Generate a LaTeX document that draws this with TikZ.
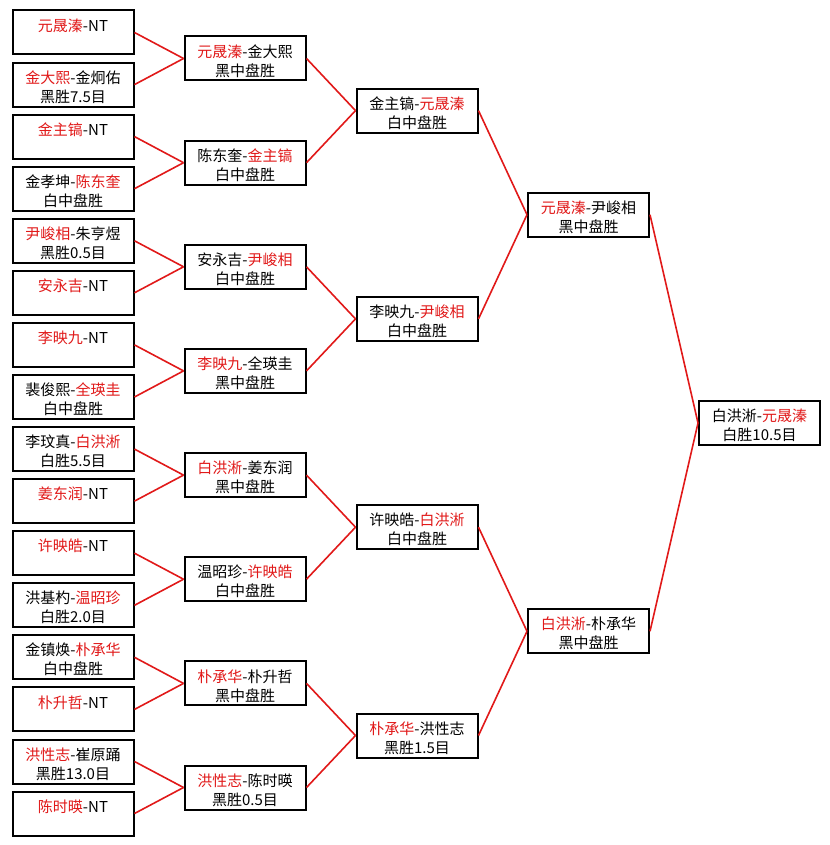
\documentclass[tikz,border=0pt]{standalone}
\usepackage{fontspec}
\newfontfamily\cjk{Noto Sans CJK SC}
\definecolor{winred}{RGB}{225,25,25}
\newcommand{\win}[1]{\textcolor{winred}{#1}}
\newcommand{\bout}[2]{\parbox[c][33pt][t]{90.75pt}{\centering\fontsize{11.25}{14.25}\selectfont\rule{0pt}{15.5pt}#1\par#2}}

\begin{document}
\begin{tikzpicture}
          [x=0.75pt,y=-0.75pt,
          font=\cjk,
          match/.style={shape=rectangle,draw=black,fill=white,text=black,inner sep=0pt,line width=1.5pt},
          edge/.style={draw=winred,line width=1.2pt}]

            \useasboundingbox [fill=white] (0,0) rectangle (830,845);

            \node (a1) [match] at (73,32.5) {\bout{\win{元晟溱}-NT}{}};
            \node (a2) [match] at (73,84.6) {\bout{\win{金大熙}-金炯佑}{黑胜7.5目}};
            \node (a3) [match] at (73,136.6) {\bout{\win{金主镐}-NT}{}};
            \node (a4) [match] at (73,188.7) {\bout{金孝坤-\win{陈东奎}}{白中盘胜}};
            \node (a5) [match] at (73,240.8) {\bout{\win{尹峻相}-朱亨煜}{黑胜0.5目}};
            \node (a6) [match] at (73,292.8) {\bout{\win{安永吉}-NT}{}};
            \node (a7) [match] at (73,344.9) {\bout{\win{李映九}-NT}{}};
            \node (a8) [match] at (73,397.0) {\bout{裴俊熙-\win{全瑛圭}}{白中盘胜}};
            \node (a9) [match] at (73,449.1) {\bout{李玟真-\win{白洪淅}}{白胜5.5目}};
            \node (a10) [match] at (73,501.1) {\bout{\win{姜东润}-NT}{}};
            \node (a11) [match] at (73,553.2) {\bout{\win{许映皓}-NT}{}};
            \node (a12) [match] at (73,605.3) {\bout{洪基杓-\win{温昭珍}}{白胜2.0目}};
            \node (a13) [match] at (73,657.3) {\bout{金镇焕-\win{朴承华}}{白中盘胜}};
            \node (a14) [match] at (73,709.4) {\bout{\win{朴升哲}-NT}{}};
            \node (a15) [match] at (73,761.5) {\bout{\win{洪性志}-崔原踊}{黑胜13.0目}};
            \node (a16) [match] at (73,813.5) {\bout{\win{陈时暎}-NT}{}};

            \node (b1) [match] at (245,58.5) {\bout{\win{元晟溱}-金大熙}{黑中盘胜}};
            \node (b2) [match] at (245,162.7) {\bout{陈东奎-\win{金主镐}}{白中盘胜}};
            \node (b3) [match] at (245,266.8) {\bout{安永吉-\win{尹峻相}}{白中盘胜}};
            \node (b4) [match] at (245,370.9) {\bout{\win{李映九}-全瑛圭}{黑中盘胜}};
            \node (b5) [match] at (245,475.1) {\bout{\win{白洪淅}-姜东润}{黑中盘胜}};
            \node (b6) [match] at (245,579.2) {\bout{温昭珍-\win{许映皓}}{白中盘胜}};
            \node (b7) [match] at (245,683.4) {\bout{\win{朴承华}-朴升哲}{黑中盘胜}};
            \node (b8) [match] at (245,787.5) {\bout{\win{洪性志}-陈时暎}{黑胜0.5目}};

            \node (c1) [match] at (417,110.6) {\bout{金主镐-\win{元晟溱}}{白中盘胜}};
            \node (c2) [match] at (417,318.9) {\bout{李映九-\win{尹峻相}}{白中盘胜}};
            \node (c3) [match] at (417,527.2) {\bout{许映皓-\win{白洪淅}}{白中盘胜}};
            \node (c4) [match] at (417,735.5) {\bout{\win{朴承华}-洪性志}{黑胜1.5目}};

            \node (d1) [match] at (588.5,214.7) {\bout{\win{元晟溱}-尹峻相}{黑中盘胜}};
            \node (d2) [match] at (588.5,631.3) {\bout{\win{白洪淅}-朴承华}{黑中盘胜}};

            \node (e) [match] at (759.5,423) {\bout{白洪淅-\win{元晟溱}}{白胜10.5目}};

          \draw [edge] (a1.east) to (b1.west);
          \draw [edge] (a2.east) to (b1.west);
          \draw [edge] (a3.east) to (b2.west);
          \draw [edge] (a4.east) to (b2.west);
          \draw [edge] (a5.east) to (b3.west);
          \draw [edge] (a6.east) to (b3.west);
          \draw [edge] (a7.east) to (b4.west);
          \draw [edge] (a8.east) to (b4.west);
          \draw [edge] (a9.east) to (b5.west);
          \draw [edge] (a10.east) to (b5.west);
          \draw [edge] (a11.east) to (b6.west);
          \draw [edge] (a12.east) to (b6.west);
          \draw [edge] (a13.east) to (b7.west);
          \draw [edge] (a14.east) to (b7.west);
          \draw [edge] (a15.east) to (b8.west);
          \draw [edge] (a16.east) to (b8.west);

          \draw [edge] (b1.east) to (c1.west);
          \draw [edge] (b2.east) to (c1.west);
          \draw [edge] (b3.east) to (c2.west);
          \draw [edge] (b4.east) to (c2.west);
          \draw [edge] (b5.east) to (c3.west);
          \draw [edge] (b6.east) to (c3.west);
          \draw [edge] (b7.east) to (c4.west);
          \draw [edge] (b8.east) to (c4.west);

          \draw [edge] (c1.east) to (d1.west);
          \draw [edge] (c2.east) to (d1.west);
          \draw [edge] (c3.east) to (d2.west);
          \draw [edge] (c4.east) to (d2.west);

          \draw [edge] (d1.east) to (e.west);
          \draw [edge] (d2.east) to (e.west);

        \end{tikzpicture}
\end{document}
